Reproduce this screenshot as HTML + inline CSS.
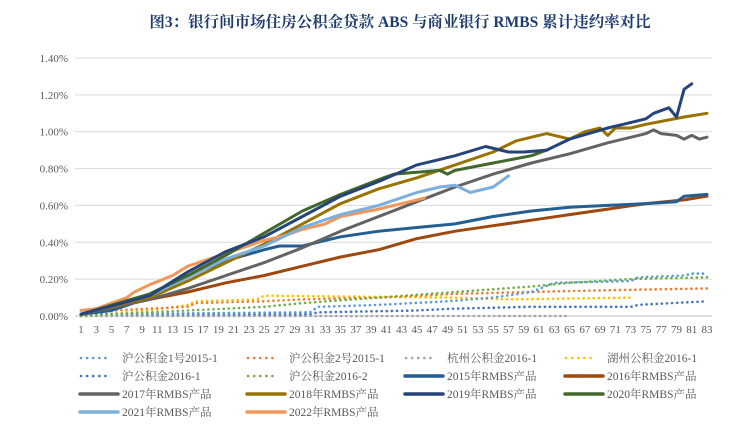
<!DOCTYPE html>
<html><head><meta charset="utf-8">
<style>
html,body{margin:0;padding:0;background:#fff;}
svg{display:block;font-family:"Liberation Serif","Noto Serif CJK SC",serif;}
</style></head>
<body>
<svg id="chart" width="740" height="426" viewBox="0 0 740 426" xmlns="http://www.w3.org/2000/svg">
<text x="400" y="27" text-anchor="middle" font-size="15.5" font-weight="bold" fill="#1f3c6e">图3：银行间市场住房公积金贷款 ABS 与商业银行 RMBS 累计违约率对比</text>
<g id="grid"></g>
<g id="yaxis"></g>
<g id="xaxis"></g>
<g id="series"></g>
<g id="legend"></g>
</svg>
<script>
const yTicks=[0,0.2,0.4,0.6,0.8,1.0,1.2,1.4];
const yTickLabels=["0.00%","0.20%","0.40%","0.60%","0.80%","1.00%","1.20%","1.40%"];
const periods=83;
const names=["沪公积金1号2015-1","沪公积金2号2015-1","杭州公积金2016-1","湖州公积金2016-1","沪公积金2016-1","沪公积金2016-2","2015年RMBS产品","2016年RMBS产品","2017年RMBS产品","2018年RMBS产品","2019年RMBS产品","2020年RMBS产品","2021年RMBS产品","2022年RMBS产品"];
const colors=["#5b9bd5","#ed7d31","#a5a5a5","#ffc000","#4472c4","#70ad47","#255e91","#9e480e","#636363","#997300","#264478","#43682b","#7cafdd","#f1975a"];
const dotted=[true,true,true,true,true,true,false,false,false,false,false,false,false,false];
// series: key periods and values (%)
const s0x=[1,31,32,40,49,55,60,63,73,74,80,81,83];
const s0y=[0.01,0.02,0.05,0.06,0.08,0.10,0.13,0.18,0.19,0.21,0.22,0.23,0.23];
const s1x=[1,5,15,16,25,30,40,50,60,70,83];
const s1y=[0.0,0.03,0.05,0.07,0.08,0.09,0.10,0.12,0.13,0.14,0.15];
const s2x=[1,65];
const s2y=[0.0,0.0];
const s3x=[1,10,15,16,24,25,50,57,73];
const s3y=[0.0,0.03,0.06,0.08,0.09,0.11,0.10,0.09,0.10];
const s4x=[1,31,32,45,50,60,73,74,83];
const s4y=[0.01,0.01,0.02,0.03,0.04,0.05,0.05,0.06,0.08];
const s5x=[1,5,15,25,30,40,50,60,65,73,83];
const s5y=[0.0,0.01,0.03,0.05,0.07,0.10,0.13,0.16,0.18,0.20,0.21];
const s6x=[1,5,10,15,20,25,27,30,33,35,40,45,50,55,60,65,70,75,79,80,83];
const s6y=[0.01,0.03,0.10,0.22,0.30,0.36,0.38,0.38,0.41,0.43,0.46,0.48,0.50,0.54,0.57,0.59,0.60,0.61,0.62,0.65,0.66];
const s7x=[1,10,15,20,25,30,35,40,45,50,55,60,65,70,75,80,83];
const s7y=[0.01,0.09,0.13,0.18,0.22,0.27,0.32,0.36,0.42,0.46,0.49,0.52,0.55,0.58,0.61,0.63,0.65];
const s8x=[1,10,15,20,25,30,35,40,45,50,55,60,65,70,75,76,77,79,80,81,82,83];
const s8y=[0.01,0.09,0.15,0.22,0.29,0.37,0.46,0.54,0.62,0.70,0.77,0.83,0.88,0.94,0.99,1.01,0.99,0.98,0.96,0.98,0.96,0.97];
const s9x=[1,10,15,20,25,30,35,40,45,50,55,58,60,62,65,67,69,70,71,73,75,80,83];
const s9y=[0.01,0.10,0.19,0.29,0.39,0.50,0.61,0.69,0.75,0.82,0.89,0.95,0.97,0.99,0.96,1.00,1.02,0.98,1.02,1.02,1.04,1.08,1.10];
const s10x=[1,10,15,20,25,30,35,40,45,48,50,54,57,59,62,65,70,74,75,76,78,79,80,81];
const s10y=[0.01,0.11,0.24,0.35,0.43,0.54,0.65,0.73,0.82,0.85,0.87,0.92,0.89,0.89,0.90,0.96,1.02,1.06,1.07,1.10,1.13,1.08,1.23,1.26];
const s11x=[1,10,15,20,25,30,35,40,42,45,48,49,50,55,60,62];
const s11y=[0.01,0.12,0.22,0.33,0.45,0.57,0.66,0.74,0.77,0.78,0.79,0.77,0.79,0.83,0.87,0.90];
const s12x=[1,10,15,20,25,30,35,40,45,48,50,52,55,57];
const s12y=[0.01,0.11,0.21,0.31,0.38,0.48,0.55,0.60,0.67,0.70,0.71,0.67,0.70,0.76];
const s13x=[1,3,5,7,8,10,13,15,20,25,28,30,33,35,40,45,46];
const s13y=[0.03,0.04,0.07,0.10,0.13,0.17,0.22,0.27,0.34,0.41,0.44,0.47,0.50,0.54,0.58,0.63,0.64];
const seriesX=[s0x,s1x,s2x,s3x,s4x,s5x,s6x,s7x,s8x,s9x,s10x,s11x,s12x,s13x];
const seriesY=[s0y,s1y,s2y,s3y,s4y,s5y,s6y,s7y,s8y,s9y,s10y,s11y,s12y,s13y];

const NS="http://www.w3.org/2000/svg";
function xS(p){return 81+(p-1)*(707-81)/(periods-1);}
function yS(v){return 316-v*(316-58)/1.4;}
function mk(t,a,parent){const e=document.createElementNS(NS,t);for(const k in a)e.setAttribute(k,a[k]);parent.appendChild(e);return e;}

const grid=document.getElementById('grid'),ya=document.getElementById('yaxis'),xa=document.getElementById('xaxis'),sg=document.getElementById('series'),lg=document.getElementById('legend');
yTicks.forEach((t,i)=>{
  const l=mk('line',{x1:75,x2:712,y1:yS(t),y2:yS(t),stroke:i==0?'#bfbfbf':'#d9d9d9','stroke-width':1},grid);
  
  
  const tx=mk('text',{x:68,y:yS(t)+4,'text-anchor':'end','font-size':11,fill:'#595959'},ya);
  tx.textContent=yTickLabels[i];
  
  
});
for(let p=1;p<=periods;p+=2){
  const tx=mk('text',{x:xS(p),y:333,'text-anchor':'middle','font-size':11,fill:'#595959'},xa);
  tx.textContent=p;
  
  
}
const order=[2,3,1,4,0,5,7,6,8,9,13,12,11,10];
order.forEach(i=>{
  const pts=seriesX[i].map((p,j)=>xS(p).toFixed(1)+','+yS(seriesY[i][j]).toFixed(1)).join(' ');
  const a={points:pts,fill:'none',stroke:colors[i],'stroke-linejoin':'round','stroke-linecap':'round'};
  if(dotted[i]){a['stroke-width']=2.6;a['stroke-dasharray']='0.1 5';}else{a['stroke-width']=3;}
  const pl=mk('polyline',a,sg);
  
  
});
const colX=[80,247,405,565];
names.forEach((n,i)=>{
  const c=i%4,r=Math.floor(i/4);
  const x=colX[c],y=358+r*18;
  let a;
  if(dotted[i]){a={x1:x+1,x2:x+31,y1:y,y2:y,stroke:colors[i],'stroke-width':2.6,'stroke-linecap':'round','stroke-dasharray':'0.1 6'};}
  else{a={x1:x,x2:x+38,y1:y,y2:y,stroke:colors[i],'stroke-width':3.5,'stroke-linecap':'round'};}
  const ln=mk('line',a,lg);
  
  
  const tx=mk('text',{x:x+42,y:y+4,'font-size':11.5,fill:'#595959'},lg);
  tx.textContent=n;
  
  
});
</script>
</body></html>
